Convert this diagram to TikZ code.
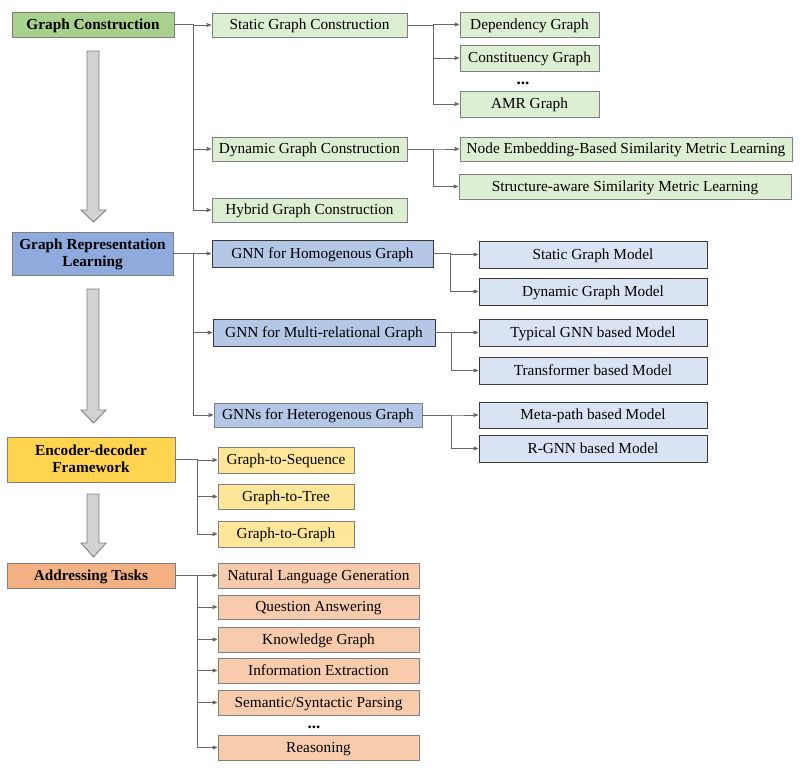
\documentclass[tikz,border=0pt]{standalone}
\usepackage{fontspec}
\setmainfont{Liberation Serif}
\usetikzlibrary{arrows}
\usetikzlibrary{positioning}

\definecolor{greenhead}{HTML}{A9D18E}
\definecolor{greenleaf}{HTML}{DDEFD2}
\definecolor{bluehead}{HTML}{8FAADC}
\definecolor{bluemid}{HTML}{B4C7E7}
\definecolor{blueleaf}{HTML}{DAE3F3}
\definecolor{yellowhead}{HTML}{FFD44F}
\definecolor{yellowleaf}{HTML}{FFE699}
\definecolor{orangehead}{HTML}{F4B183}
\definecolor{orangeleaf}{HTML}{F8CBAD}
\definecolor{edgegray}{HTML}{7F7F7F}
\definecolor{darkedge}{HTML}{3A3A3A}

\begin{document}
\begin{tikzpicture}[x=1pt,y=-1pt,>=stealth',
    box/.style={draw=edgegray,line width=0.9pt,inner sep=0pt,align=center,
                text depth=0.08em,font=\fontsize{15.3}{16}\selectfont},
    head node/.style={box,font=\bfseries\fontsize{15.3}{17}\selectfont},
    sz/.style 2 args={minimum width=#1pt,minimum height=#2pt},
    link/.style={->,draw=edgegray!80!black,line width=0.7pt,shorten >=0.5pt},
    big arrow/.style={draw=edgegray,fill=gray!35,line width=0.9pt}]

  \useasboundingbox (0,0) rectangle (805,769);

  % left column
  \node[head node,fill=greenhead,sz={162}{25}] (gc) at (93,24.5) {Graph Construction};
  \node[head node,fill=bluehead,sz={161}{43}] (grl) at (92.5,253.5) {Graph Representation\\Learning};
  \node[head node,fill=yellowhead,sz={168}{45}] (edf) at (91,459.5) {Encoder-decoder\\Framework};
  \node[head node,fill=orangehead,sz={168}{25}] (at) at (91,575.5) {Addressing Tasks};

  \foreach \top/\hd/\tip in {51/210/222, 289/410/423, 494/543/557}
    \draw[big arrow] (87,\top) -- (99,\top) -- (99,\hd) -- (106,\hd) -- (93.5,\tip)
      -- (81,\hd) -- (87,\hd) -- cycle;

  % graph construction
  \node[box,fill=greenleaf,sz={195}{24}] (sgc) at (309.5,25) {Static Graph Construction};
  \node[box,fill=greenleaf,sz={195}{24}] (dgc) at (309.5,149) {Dynamic Graph Construction};
  \node[box,fill=greenleaf,sz={195}{24}] (hgc) at (309.5,210) {Hybrid Graph Construction};

  \node[box,fill=greenleaf,sz={139}{25}] (dep) at (529.5,24.5) {Dependency Graph};
  \node[box,fill=greenleaf,sz={139}{26}] (con) at (529.5,58) {Constituency Graph};
  \node[anchor=base,font=\bfseries\fontsize{17}{17}\selectfont] (dots1) at (523,84) {...};
  \node[box,fill=greenleaf,sz={139}{26}] (amr) at (529.5,104) {AMR Graph};
  \node[box,fill=greenleaf,sz={332}{24}] (neb) at (626,149) {Node Embedding-Based Similarity Metric Learning};
  \node[box,fill=greenleaf,sz={332}{25}] (sas) at (625,186.5) {Structure-aware Similarity Metric Learning};

  % representation learning
  \node[box,draw=darkedge,fill=bluemid,sz={221}{27}] (hom) at (322.5,253.5) {GNN for Homogenous Graph};
  \node[box,draw=darkedge,fill=bluemid,sz={222}{27}] (mul) at (324,332.5) {GNN for Multi-relational Graph};
  \node[box,fill=bluemid,sz={208}{24}] (het) at (318,415) {GNNs for Heterogenous Graph};

  \node[box,draw=darkedge,fill=blueleaf,sz={228}{27}] (sgm) at (593,254.5) {Static Graph Model};
  \node[box,draw=darkedge,fill=blueleaf,sz={228}{27}] (dgm) at (593,291.5) {Dynamic Graph Model};
  \node[box,draw=darkedge,fill=blueleaf,sz={228}{27}] (tgm) at (593,332.5) {Typical GNN based Model};
  \node[box,draw=darkedge,fill=blueleaf,sz={228}{27}] (tbm) at (593,370.5) {Transformer based Model};
  \node[box,draw=darkedge,fill=blueleaf,sz={228}{26}] (mpm) at (593,415) {Meta-path based Model};
  \node[box,draw=darkedge,fill=blueleaf,sz={228}{27}] (rgm) at (593,448.5) {R-GNN based Model};

  % encoder-decoder
  \node[box,fill=yellowleaf,sz={136}{26}] (g2s) at (286,460) {Graph-to-Sequence};
  \node[box,fill=yellowleaf,sz={136}{25}] (g2t) at (286,496.5) {Graph-to-Tree};
  \node[box,fill=yellowleaf,sz={136}{26}] (g2g) at (286,534) {Graph-to-Graph};

  % tasks
  \node[box,fill=orangeleaf,sz={201}{25}] (nlg) at (318.5,575.5) {Natural Language Generation};
  \node[box,fill=orangeleaf,sz={201}{24}] (qa) at (318.5,607) {Question Answering};
  \node[box,fill=orangeleaf,sz={201}{25}] (kg) at (318.5,639.5) {Knowledge Graph};
  \node[box,fill=orangeleaf,sz={201}{25}] (ie) at (318.5,670.5) {Information Extraction};
  \node[box,fill=orangeleaf,sz={201}{25}] (ssp) at (318.5,702.5) {Semantic/Syntactic Parsing};
  \node[anchor=base,font=\bfseries\fontsize{17}{17}\selectfont] (dots2) at (314,728) {...};
  \node[box,fill=orangeleaf,sz={201}{25}] (rea) at (318.5,747.5) {Reasoning};

  % connectors
  \foreach \c in {sgc,dgc,hgc} \draw[link] (gc.east) -- ++(19,0) |- (\c.west);
  \foreach \c in {dep,con,amr} \draw[link] (sgc.east) -- ++(26,0) |- (\c.west);
  \foreach \c in {neb,sas} \draw[link] (dgc.east) -- ++(26,0) |- (\c.west);
  \foreach \c in {hom,mul,het} \draw[link] (grl.east) -- ++(20,0) |- (\c.west);
  \foreach \c in {sgm,dgm} \draw[link] (hom.east) -- ++(17,0) |- (\c.west);
  \foreach \c in {tgm,tbm} \draw[link] (mul.east) -- ++(16,0) |- (\c.west);
  \foreach \c in {mpm,rgm} \draw[link] (het.east) -- ++(29,0) |- (\c.west);
  \foreach \c in {g2s,g2t,g2g} \draw[link] (edf.east) -- ++(22,0) |- (\c.west);
  \foreach \c in {nlg,qa,kg,ie,ssp,rea} \draw[link] (at.east) -- ++(22,0) |- (\c.west);
\end{tikzpicture}
\end{document}
